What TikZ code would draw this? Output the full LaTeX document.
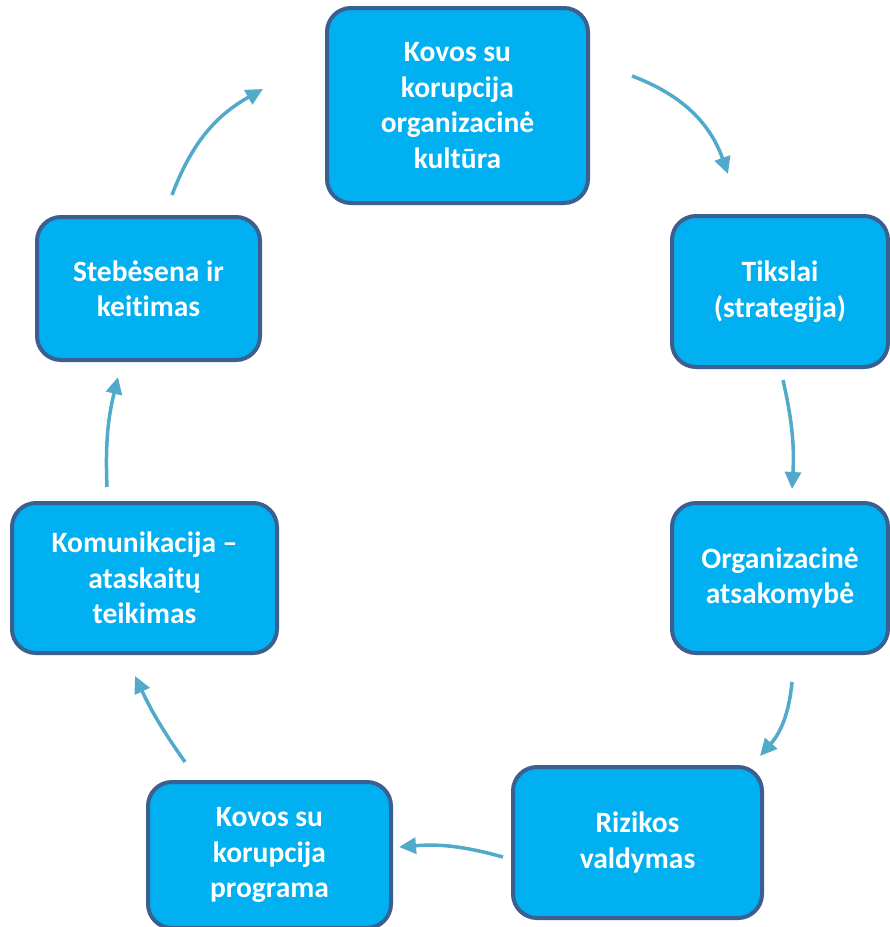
\documentclass[tikz,border=0pt]{standalone}
\usepackage{fontspec}
\setmainfont[Ligatures=NoCommon]{Carlito}
\usetikzlibrary{arrows.meta}
\definecolor{boxfill}{HTML}{00B0F0}
\definecolor{boxline}{HTML}{3B5F8E}
\definecolor{arrowcol}{HTML}{52AACB}
\tikzset{
    stagebox/.style={draw=boxline, line width=4pt, fill=boxfill, rounded corners=24pt,
        text=white, align=center, inner sep=0pt,
        font=\fontsize{29.5}{35.5}\selectfont\bfseries},
    cycarrow/.style={draw=arrowcol, line width=3.5pt, -{Triangle[length=17pt,width=16pt]}}
}
\begin{document}
\begin{tikzpicture}[x=1pt,y=-1pt] % pixel grid of the reference
        \clip (0,0) rectangle (890,927);
        \fill[white] (0,0) rectangle (890,927);

        \node[stagebox, minimum width=261pt, minimum height=195pt] (kultura) at (457.5,105.5) {Kovos su\\korupcija\\organizacinė\\kultūra};
        \node[stagebox, minimum width=216pt, minimum height=151pt] (tikslai) at (780,291.5) {Tikslai\\(strategija)};
        \node[stagebox, minimum width=216pt, minimum height=150pt] (atsakomybe) at (780,578) {Organizacinė\\atsakomybė};
        \node[stagebox, minimum width=249pt, minimum height=151pt] (rizikos) at (637.5,842.5) {Rizikos\\valdymas};
        \node[stagebox, minimum width=243pt, minimum height=146pt] (programa) at (269.5,855) {Kovos su\\korupcija\\programa};
        \node[stagebox, minimum width=265pt, minimum height=150pt] (komunikacija) at (144.5,578) {Komunikacija --\\ataskaitų\\teikimas};
        \node[stagebox, minimum width=223pt, minimum height=143pt] (stebesena) at (148.5,288.5) {Stebėsena ir\\keitimas};

        \coordinate (a1) at (632,76);   \coordinate (b1) at (728,174);
        \coordinate (a2) at (783,380);  \coordinate (b2) at (792,489);
        \coordinate (a3) at (792,682);  \coordinate (b3) at (760,756);
        \coordinate (a4) at (503,857);  \coordinate (b4) at (399,847);
        \coordinate (a5) at (185,762);  \coordinate (b5) at (135,676);
        \coordinate (a6) at (107,487);  \coordinate (b6) at (118,377);
        \coordinate (a7) at (172,195);  \coordinate (b7) at (263,89);

        \draw[cycarrow] (a1) to[bend left=25] (b1);
        \draw[cycarrow] (a2) to[bend left=8] (b2);
        \draw[cycarrow] (a3) to[bend left=18] (b3);
        \draw[cycarrow] (a4) to[bend right=10] (b4);
        \draw[cycarrow] (a5) to[bend left=5] (b5);
        \draw[cycarrow] (a6) to[bend left=8] (b6);
        \draw[cycarrow] (a7) to[bend left=20] (b7);
\end{tikzpicture}
\end{document}
